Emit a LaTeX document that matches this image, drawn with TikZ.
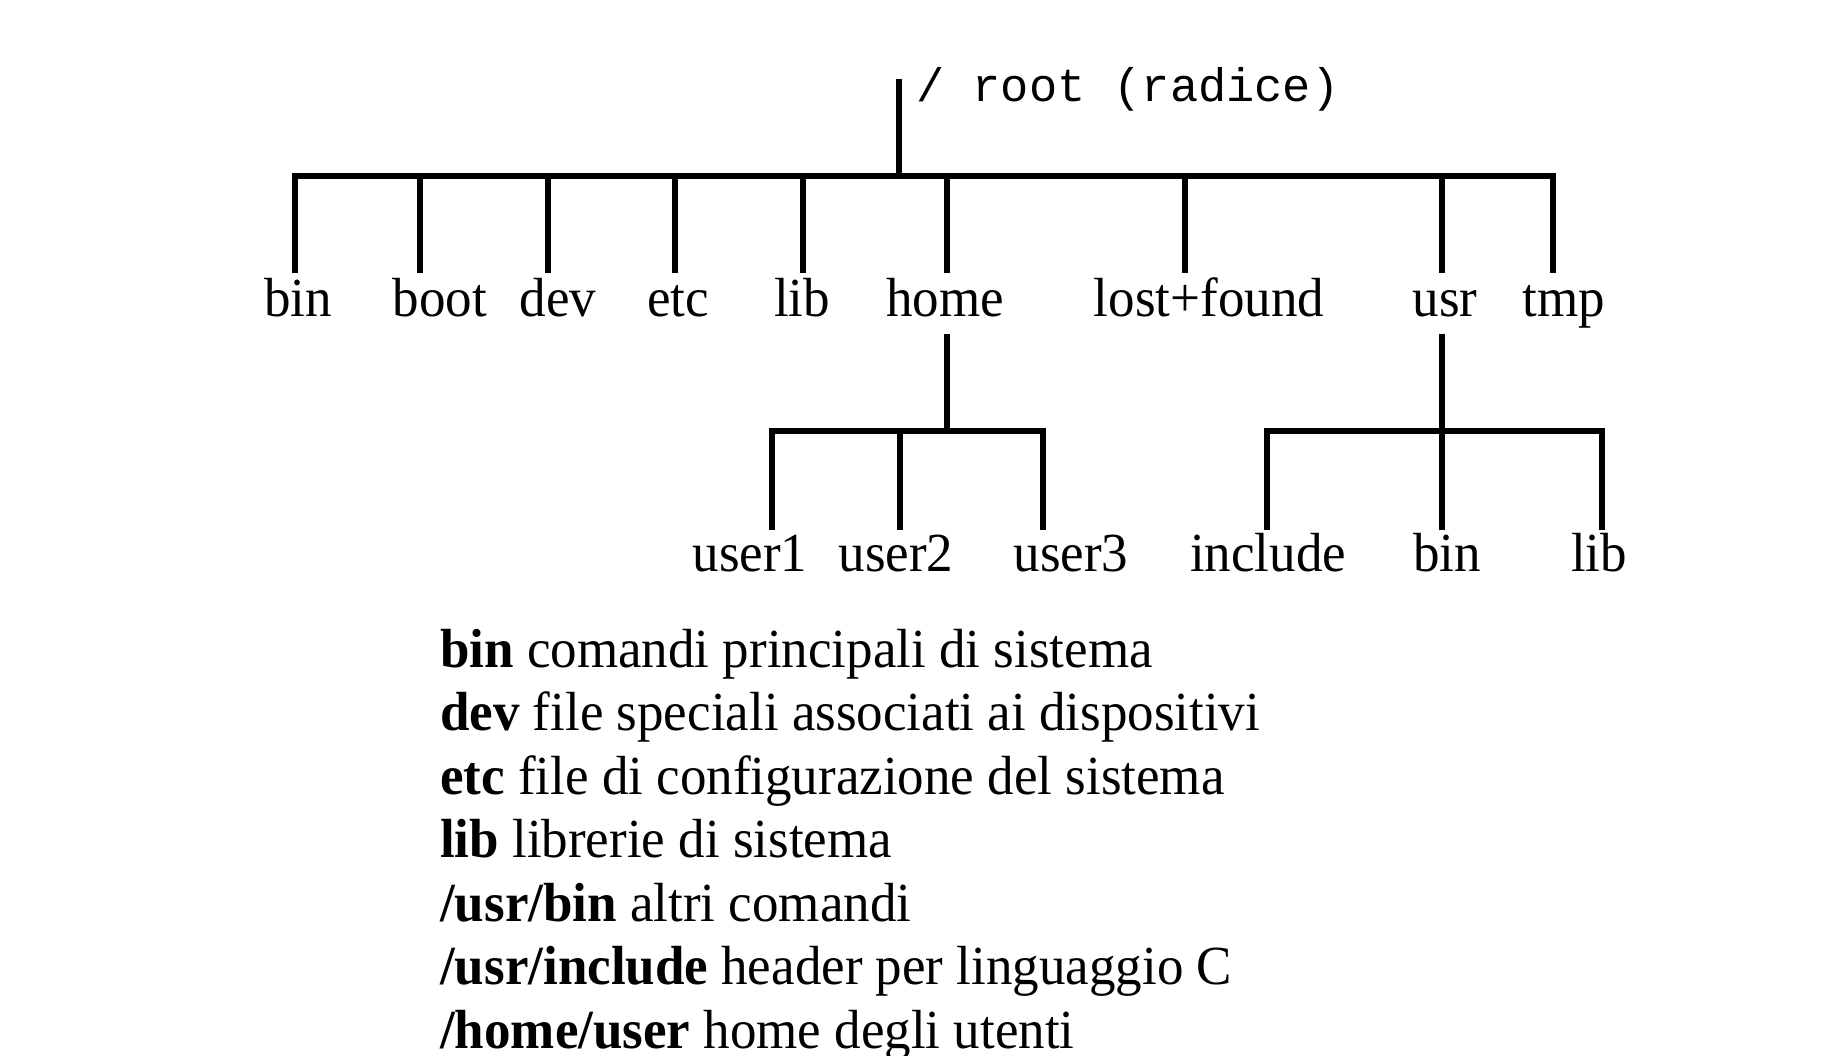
\documentclass[tikz,border=0pt]{standalone}
\usepackage{fontspec}
\usepackage{graphicx}
\setmainfont{Liberation Serif}
\newfontfamily\monof{Liberation Mono}
\tikzset{
  lbl/.style={anchor=base, inner sep=0pt, font=\fontsize{53}{63.5}\selectfont},
  legend/.style={anchor=base west, inner sep=0pt, font=\fontsize{53}{63.5}\selectfont},
  rootlbl/.style={anchor=base west, inner sep=0pt, font=\monof\fontsize{47}{56}\selectfont},
  branch/.style={line width=5.5pt, line cap=rect, black},
}
\begin{document}
\begin{tikzpicture}[x=1pt,y=-1pt]
\useasboundingbox (0,0) rectangle (1826,1056);
\fill[white] (0,0) rectangle (1826,1056);

% root
\node[rootlbl] (root) at (916,102) {/ root (radice)};
\coordinate (rtop) at (899,82);
\coordinate (rj) at (899,176);
\coordinate (barL) at (295,176);
\coordinate (barR) at (1553,176);
\draw[branch] (rtop) -- (rj);
\draw[branch] (barL) -- (barR);

% first level line ends
\coordinate (cbin) at (295,270);
\coordinate (cboot) at (420,270);
\coordinate (cdev) at (548,270);
\coordinate (cetc) at (675,270);
\coordinate (clib) at (803,270);
\coordinate (chome) at (947,270);
\coordinate (clost) at (1185,270);
\coordinate (cusr) at (1442,270);
\coordinate (ctmp) at (1553,270);
\foreach \c in {cbin,cboot,cdev,cetc,clib,chome,clost,cusr,ctmp}
  \draw[branch] (\c |- barL) -- (\c);

% first level labels
\node[lbl] (bin) at (298,317) {\scalebox{1}[1.04]{bin}};
\node[lbl] (boot) at (440,317) {\scalebox{1}[1.04]{boot}};
\node[lbl] (dev) at (558,317) {\scalebox{1}[1.04]{dev}};
\node[lbl] (etc) at (678,317) {\scalebox{1}[1.04]{etc}};
\node[lbl] (lib) at (802,317) {\scalebox{1}[1.04]{lib}};
\node[lbl] (home) at (945,317) {\scalebox{1}[1.04]{home}};
\node[lbl] (lost) at (1209,317) {\scalebox{1}[1.04]{lost+found}};
\node[lbl] (usr) at (1445,317) {\scalebox{1}[1.04]{usr}};
\node[lbl] (tmp) at (1564,317) {\scalebox{1}[1.04]{tmp}};

% home subtree
\coordinate (htop) at (947,337);
\coordinate (hj) at (947,431);
\coordinate (hL) at (772,431);
\coordinate (hR) at (1043,431);
\draw[branch] (htop) -- (hj);
\draw[branch] (hL) -- (hR);
\coordinate (cu1) at (772,527);
\coordinate (cu2) at (900,527);
\coordinate (cu3) at (1043,527);
\foreach \c in {cu1,cu2,cu3}
  \draw[branch] (\c |- hL) -- (\c);

% usr subtree
\coordinate (utop) at (1442,337);
\coordinate (uj) at (1442,431);
\coordinate (uL) at (1267,431);
\coordinate (uR) at (1602,431);
\draw[branch] (utop) -- (uj);
\draw[branch] (uL) -- (uR);
\coordinate (cinc) at (1267,527);
\coordinate (cubin) at (1442,527);
\coordinate (culib) at (1602,527);
\foreach \c in {cinc,cubin,culib}
  \draw[branch] (\c |- uL) -- (\c);

% second level labels
\node[lbl] (user1) at (750,571) {\scalebox{1}[1.04]{user1}};
\node[lbl] (user2) at (896,571) {\scalebox{1}[1.04]{user2}};
\node[lbl] (user3) at (1071,571) {\scalebox{1}[1.04]{user3}};
\node[lbl] (include) at (1268,571) {\scalebox{1}[1.04]{include}};
\node[lbl] (ubin) at (1447,571) {\scalebox{1}[1.04]{bin}};
\node[lbl] (ulib) at (1599,571) {\scalebox{1}[1.04]{lib}};

% legend
\node[legend] (l1) at (440,667) {\scalebox{1}[1.04]{\textbf{bin} comandi principali di sistema}};
\node[legend] (l2) at (440,730.5) {\scalebox{1}[1.04]{\textbf{dev} file speciali associati ai dispositivi}};
\node[legend] (l3) at (440,794) {\scalebox{1}[1.04]{\textbf{etc} file di configurazione del sistema}};
\node[legend] (l4) at (440,857.5) {\scalebox{1}[1.04]{\textbf{lib} librerie di sistema}};
\node[legend] (l5) at (440,921) {\scalebox{1}[1.04]{\textbf{/usr/bin} altri comandi}};
\node[legend] (l6) at (440,984.5) {\scalebox{1}[1.04]{\textbf{/usr/include} header per linguaggio C}};
\node[legend] (l7) at (440,1048) {\scalebox{1}[1.04]{\textbf{/home/user} home degli utenti}};
\end{tikzpicture}
\end{document}
